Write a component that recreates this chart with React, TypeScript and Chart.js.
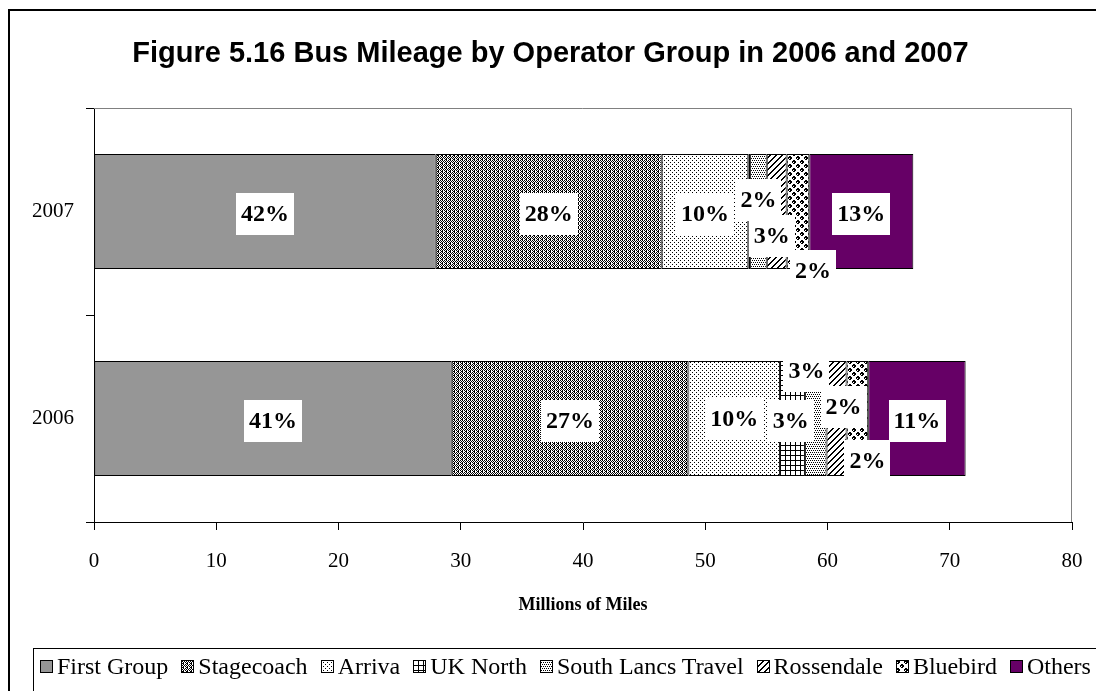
import React, { useEffect, useRef } from 'react';
import { Chart, registerables } from 'chart.js';

Chart.register(...registerables);

// ---------------- data ----------------
const categories = ['2007', '2006'];
const operators = [
  'First Group',
  'Stagecoach',
  'Arriva',
  'UK North',
  'South Lancs Travel',
  'Rossendale',
  'Bluebird',
  'Others',
];
const firstGroup = [27.95, 29.26];
const stagecoach = [18.49, 19.36];
const arriva = [7.08, 7.49];
const ukNorth = [0.15, 2.04];
const southLancs = [1.36, 1.77];
const rossendale = [1.63, 1.64];
const bluebird = [1.85, 1.77];
const others = [8.51, 7.97];
const seriesValues = [firstGroup, stagecoach, arriva, ukNorth, southLancs, rossendale, bluebird, others];

// percentage labels per operator
const pctLabels2007 = ['42%', '28%', '10%', '', '2%', '3%', '2%', '13%'];
const pctLabels2006 = ['41%', '27%', '10%', '3%', '3%', '2%', '2%', '11%'];

const xMin = 0;
const xMax = 80;
const xStep = 10;

// ---------------- styles (not data) ----------------
const TIMES = '"Liberation Serif", "Times New Roman", serif';
const ARIAL = '"Liberation Sans", Arial, sans-serif';
// label offsets (px) from the segment centre: [dx, dy]
const labelOffsets = [
  [[0, 2], [0, 2], [0, 2], [0, 0], [0, -12], [-5, 24], [15, 59], [0, 2]],
  [[0, 2], [0, 2], [0, 0], [14, -48], [-25, 2], [7, -12], [10, 42], [0, 2]],
];

type Kind = 'solidGray' | 'stagecoach' | 'arriva' | 'ukNorth' | 'southLancs' | 'rossendale' | 'bluebird' | 'purple';
const kinds: Kind[] = ['solidGray', 'stagecoach', 'arriva', 'ukNorth', 'southLancs', 'rossendale', 'bluebird', 'purple'];

function tile(rows: string[]): HTMLCanvasElement {
  const c = document.createElement('canvas');
  c.width = rows[0].length;
  c.height = rows.length;
  const ctx = c.getContext('2d')!;
  ctx.fillStyle = '#fff';
  ctx.fillRect(0, 0, c.width, c.height);
  ctx.fillStyle = '#000';
  rows.forEach((r, y) => {
    for (let x = 0; x < r.length; x++) if (r[x] === 'X') ctx.fillRect(x, y, 1, 1);
  });
  return c;
}

function tileFor(kind: Kind): HTMLCanvasElement | null {
  switch (kind) {
    case 'stagecoach':
      return tile(['X.X.', '.X.X', 'X.X.', '.XX.']);
    case 'arriva':
      return tile(['X...', '....', '..X.', '....']);
    case 'ukNorth':
      return tile(['XXXXX', 'X....', 'X....', 'X....', 'X....']);
    case 'southLancs':
      return tile(['X.X.', '....', '.X.X', '....']);
    case 'rossendale': {
      const rows: string[] = [];
      for (let y = 0; y < 6; y++) {
        let r = '';
        for (let x = 0; x < 6; x++) r += (x + y) % 6 < 2 ? 'X' : '.';
        rows.push(r);
      }
      return tile(rows);
    }
    case 'bluebird':
      return tile([
        '.XX.....',
        'XXXX....',
        'X.XX....',
        '.XX.....',
        '.....XX.',
        '....XXXX',
        '....X.XX',
        '.....XX.',
      ]);
    default:
      return null;
  }
}

function fillFor(ctx: CanvasRenderingContext2D, kind: Kind): string | CanvasPattern {
  if (kind === 'solidGray') return '#969696';
  if (kind === 'purple') return '#660066';
  const t = tileFor(kind)!;
  return ctx.createPattern(t, 'repeat')!;
}

const labelPlugin = {
  id: 'pctLabels',
  afterDatasetsDraw(chart: any) {
    const ctx: CanvasRenderingContext2D = chart.ctx;
    ctx.save();
    ctx.font = `bold 24px ${TIMES}`;
    ctx.textAlign = 'center';
    ctx.textBaseline = 'middle';
    const labelSets = [pctLabels2007, pctLabels2006];
    chart.data.datasets.forEach((_ds: any, di: number) => {
      const meta = chart.getDatasetMeta(di);
      meta.data.forEach((el: any, ci: number) => {
        const txt = labelSets[ci][di];
        if (!txt) return;
        const [dx, dy] = labelOffsets[ci][di];
        const cx = (el.x + el.base) / 2 + dx;
        const cy = el.y + dy;
        const w = ctx.measureText(txt).width + 10;
        const h = 42;
        ctx.fillStyle = '#fff';
        ctx.fillRect(Math.round(cx - w / 2), Math.round(cy - h / 2), Math.round(w), h);
        ctx.fillStyle = '#000';
        ctx.fillText(txt, cx, cy + 1);
      });
    });
    ctx.restore();
  },
};

const frameLinesPlugin = {
  id: 'plotFrame',
  beforeDatasetsDraw(chart: any) {
    const { ctx, chartArea } = chart;
    ctx.save();
    ctx.strokeStyle = '#808080';
    ctx.lineWidth = 1;
    ctx.beginPath();
    ctx.moveTo(chartArea.left, chartArea.top + 0.5);
    ctx.lineTo(chartArea.right - 0.5, chartArea.top + 0.5);
    ctx.lineTo(chartArea.right - 0.5, chartArea.bottom);
    ctx.stroke();
    ctx.restore();
  },
};

export default function App() {
  const canvasRef = useRef<HTMLCanvasElement>(null);
  const swatchRefs = useRef<(HTMLCanvasElement | null)[]>([]);

  useEffect(() => {
    const canvas = canvasRef.current!;
    const ctx = canvas.getContext('2d')!;
    const datasets = operators.map((name, i) => ({
      label: name,
      data: seriesValues[i],
      backgroundColor: fillFor(ctx, kinds[i]),
      borderColor: '#000',
      borderWidth: 1,
      borderSkipped: false,
      barPercentage: 0.556,
      categoryPercentage: 1,
    }));

    const chart = new Chart(canvas, {
      type: 'bar',
      data: { labels: categories, datasets },
      options: {
        indexAxis: 'y',
        responsive: false,
        animation: false,
        layout: { padding: { top: 108, right: 24, left: 0, bottom: 0 } },
        plugins: {
          legend: { display: false },
          title: { display: false },
          tooltip: { enabled: false },
        },
        scales: {
          x: {
            stacked: true,
            min: xMin,
            max: xMax,
            ticks: { stepSize: xStep, color: '#000', font: { family: TIMES, size: 21 }, padding: 19, maxRotation: 0 },
            grid: { drawOnChartArea: false, drawTicks: true, tickLength: 8, color: '#000' },
            border: { color: '#000', width: 1 },
            afterFit: (s: any) => {
              s.height = 169;
              s.paddingRight = 0;
              s.paddingLeft = 0;
            },
          },
          y: {
            stacked: true,
            ticks: { color: '#000', font: { family: TIMES, size: 21 }, padding: 12 },
            grid: { drawOnChartArea: false, drawTicks: true, tickLength: 8, color: '#000', offset: true },
            border: { color: '#000', width: 1 },
            afterFit: (s: any) => {
              s.width = 94;
            },
          },
        },
      } as any,
      plugins: [labelPlugin, frameLinesPlugin],
    });

    swatchRefs.current.forEach((sc, i) => {
      if (!sc) return;
      const sctx = sc.getContext('2d')!;
      sctx.fillStyle = fillFor(sctx, kinds[i]) as any;
      sctx.fillRect(0, 0, sc.width, sc.height);
      sctx.strokeStyle = '#000';
      sctx.lineWidth = 1;
      sctx.strokeRect(0.5, 0.5, sc.width - 1, sc.height - 1);
    });

    return () => chart.destroy();
  }, []);

  return (
    <div
      style={{
        position: 'fixed',
        left: 0,
        top: 0,
        width: 1096,
        height: 691,
        overflow: 'hidden',
        background: '#fff',
      }}
    >
      <div
        style={{
          position: 'absolute',
          left: 8,
          top: 9,
          width: 1300,
          height: 1000,
          border: '2px solid #000',
          boxSizing: 'border-box',
        }}
      />
      <canvas
        ref={canvasRef}
        width={1096}
        height={691}
        style={{ position: 'absolute', left: 0, top: 0, width: 1096, height: 691 }}
      />
      <div
        style={{
          position: 'absolute',
          left: 0,
          top: 36,
          width: 1101,
          textAlign: 'center',
          fontFamily: ARIAL,
          fontWeight: 'bold',
          fontSize: 29,
          lineHeight: '32px',
          whiteSpace: 'nowrap',
        }}
      >
        Figure 5.16 Bus Mileage by Operator Group in 2006 and 2007
      </div>
      <div
        style={{
          position: 'absolute',
          left: 383,
          top: 593,
          width: 400,
          textAlign: 'center',
          fontFamily: TIMES,
          fontWeight: 'bold',
          fontSize: 18,
          lineHeight: '22px',
        }}
      >
        Millions of Miles
      </div>
      <div
        style={{
          position: 'absolute',
          left: 33,
          top: 648,
          width: 1200,
          height: 60,
          border: '1px solid #000',
          boxSizing: 'border-box',
        }}
      >
        <div
          style={{
            position: 'absolute',
            left: 6,
            top: 3,
            height: 28,
            display: 'flex',
            alignItems: 'center',
            fontFamily: TIMES,
            fontSize: 24,
            whiteSpace: 'nowrap',
          }}
        >
          {operators.map((name, i) => (
            <div key={name} style={{ display: 'flex', alignItems: 'center', marginRight: 13 }}>
              <canvas
                ref={(el) => {
                  swatchRefs.current[i] = el;
                }}
                width={13}
                height={13}
                style={{ width: 13, height: 13, marginRight: 4 }}
              />
              <span>{name}</span>
            </div>
          ))}
        </div>
      </div>
    </div>
  );
}
